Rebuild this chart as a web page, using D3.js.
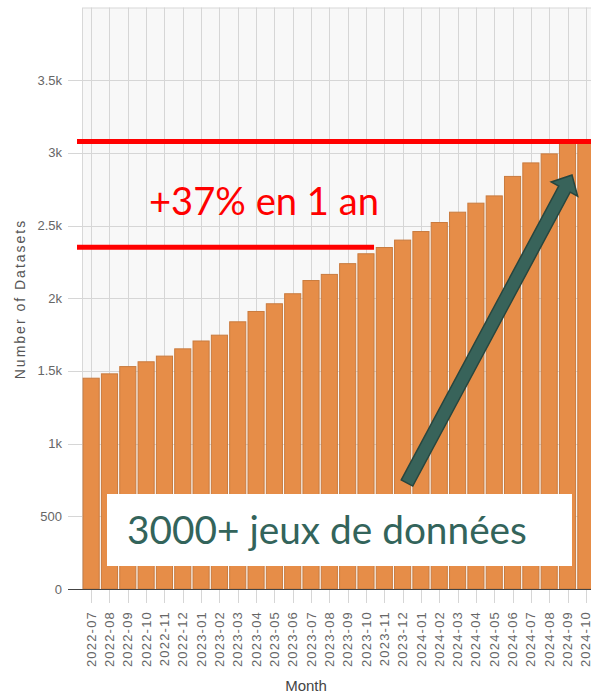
<!DOCTYPE html>
<html>
<head>
<meta charset="utf-8">
<script src="https://cdn.jsdelivr.net/npm/d3@7"></script>
<style>
  body { margin: 0; background: #fff; }
</style>
</head>
<body>
<div id="chart"></div>
<script>
var months = ['2022-07','2022-08','2022-09','2022-10','2022-11','2022-12',
  '2023-01','2023-02','2023-03','2023-04','2023-05','2023-06','2023-07','2023-08',
  '2023-09','2023-10','2023-11','2023-12','2024-01','2024-02','2024-03','2024-04',
  '2024-05','2024-06','2024-07','2024-08','2024-09','2024-10'];
var datasets = [1450,1480,1530,1563,1602,1652,1706,1746,1838,1909,1962,2031,2122,2164,
  2238,2306,2349,2400,2459,2521,2592,2654,2704,2838,2931,2993,3075,3085];
var yTicks = [0,500,1000,1500,2000,2500,3000,3500];
var yTickLabels = ['0','500','1k','1.5k','2k','2.5k','3k','3.5k'];
// levels marked by the two red lines (one year apart)
var growthLevels = [2350, 3078];
var growthText = '+37% en 1 an';
var boxText = '3000+ jeux de données';

var width = 591, height = 695;
var plotLeft = 82, plotTop = 7.5, plotBottom = 589;
var axisFont = '"Liberation Sans", Arial, sans-serif';
var noteFont = 'Lato, "Open Sans", sans-serif';

var svg = d3.select('#chart').append('svg')
    .attr('width', width)
    .attr('height', height)
    .style('display', 'block');

var x = d3.scaleBand()
    .domain(months)
    .range([plotLeft, 595])
    .paddingInner(0.12)
    .paddingOuter(0.06);

var y = d3.scaleLinear()
    .domain([0, 4000])
    .range([plotBottom, plotTop]);

// plot background + frame
svg.append('rect')
    .attr('x', plotLeft + 0.5).attr('y', plotTop + 0.5)
    .attr('width', width - plotLeft).attr('height', plotBottom - plotTop)
    .style('fill', '#f8f8f8')
    .style('stroke', '#d8d8d8');

// horizontal grid (extends left as tick marks)
svg.append('g').selectAll('line')
  .data(yTicks.slice(1))
  .enter().append('line')
    .attr('x1', 68).attr('x2', width)
    .attr('y1', function(d) { return Math.round(y(d)) + 0.5; })
    .attr('y2', function(d) { return Math.round(y(d)) + 0.5; })
    .style('stroke', '#d6d6d6');

// vertical grid at band centres, continuing as ticks below the axis
svg.append('g').selectAll('line')
  .data(months)
  .enter().append('line')
    .attr('x1', function(d) { return Math.round(x(d) + x.bandwidth() / 2) + 0.5; })
    .attr('x2', function(d) { return Math.round(x(d) + x.bandwidth() / 2) + 0.5; })
    .attr('y1', plotTop).attr('y2', plotBottom + 14)
    .style('stroke', '#d6d6d6');

// y tick labels
svg.append('g').selectAll('text')
  .data(yTicks)
  .enter().append('text')
    .attr('x', 62)
    .attr('y', function(d) { return y(d); })
    .attr('dy', '0.35em')
    .attr('text-anchor', 'end')
    .style('font-family', axisFont)
    .style('font-size', '13px')
    .style('fill', '#666')
    .text(function(d, i) { return yTickLabels[i]; });

// bars
svg.append('g').selectAll('rect')
  .data(datasets)
  .enter().append('rect')
    .attr('x', function(d, i) { return x(months[i]); })
    .attr('width', x.bandwidth())
    .attr('y', function(d) { return y(d); })
    .attr('height', function(d) { return plotBottom - y(d); })
    .style('fill', '#e68d48')
    .style('stroke', '#c97b3f')
    .style('stroke-width', 1);

// zero line
svg.append('line')
    .attr('x1', 68).attr('x2', width)
    .attr('y1', plotBottom + 0.5).attr('y2', plotBottom + 0.5)
    .style('stroke', '#444');

// x tick labels
svg.append('g').selectAll('text')
  .data(months)
  .enter().append('text')
    .attr('transform', function(d) {
      return 'translate(' + (x(d) + x.bandwidth() / 2) + ',' + 611 + ') rotate(-90)';
    })
    .attr('dy', '0.35em')
    .attr('text-anchor', 'end')
    .style('font-family', axisFont)
    .style('font-size', '13px')
    .style('letter-spacing', '1.2px')
    .style('fill', '#666')
    .text(function(d) { return d; });

// axis titles
svg.append('text')
    .attr('x', 306).attr('y', 691)
    .attr('text-anchor', 'middle')
    .style('font-family', axisFont)
    .style('font-size', '15px')
    .style('fill', '#444')
    .text('Month');

svg.append('text')
    .attr('transform', 'translate(25,299) rotate(-90)')
    .attr('text-anchor', 'middle')
    .style('font-family', axisFont)
    .style('font-size', '14px')
    .style('letter-spacing', '2px')
    .style('fill', '#555')
    .text('Number of Datasets');

// red growth lines
var growthX = [
  [plotLeft - 5, width],
  [plotLeft - 5, x('2023-10') + x.bandwidth()]
];
svg.append('g').selectAll('line')
  .data(growthLevels)
  .enter().append('line')
    .attr('x1', function(d, i) { return growthX[1 - i][0]; })
    .attr('x2', function(d, i) { return growthX[1 - i][1]; })
    .attr('y1', function(d) { return y(d); })
    .attr('y2', function(d) { return y(d); })
    .style('stroke', '#ff0000')
    .style('stroke-width', 5);

function fitText(sel, target) {
  var w = sel.node().getComputedTextLength();
  var fs = parseFloat(sel.style('font-size'));
  sel.style('font-size', (fs * target / w) + 'px');
}

var gt = svg.append('text')
    .attr('x', 149).attr('y', 215)
    .style('font-family', noteFont)
    .style('font-size', '35px')
    .style('fill', '#ff0000')
    .text(growthText);
fitText(gt, 230);

// arrow
var tail = [407, 483], tip = [572, 175];
var dx = tip[0] - tail[0], dy = tip[1] - tail[1];
var len = Math.sqrt(dx * dx + dy * dy);
var ang = Math.atan2(dy, dx) * 180 / Math.PI;
var sw = 6.5, hw = 15, hl = 16;
var arrowPts = [[0, -sw], [len - hl, -sw], [len - hl, -hw], [len, 0],
  [len - hl, hw], [len - hl, sw], [0, sw]];
svg.append('polygon')
    .attr('points', arrowPts.map(function(p) { return p.join(','); }).join(' '))
    .attr('transform', 'translate(' + tail[0] + ',' + tail[1] + ') rotate(' + ang + ')')
    .style('fill', '#38635a')
    .style('stroke', '#27463f')
    .style('stroke-width', 1.5)
    .style('stroke-linejoin', 'miter');

// white text box
svg.append('rect')
    .attr('x', 107).attr('y', 494)
    .attr('width', 465).attr('height', 72)
    .style('fill', '#fff');

var bt = svg.append('text')
    .attr('x', 127).attr('y', 544)
    .style('font-family', noteFont)
    .style('font-size', '40px')
    .style('fill', '#33645b')
    .text(boxText);
fitText(bt, 400);
</script>
</body>
</html>
